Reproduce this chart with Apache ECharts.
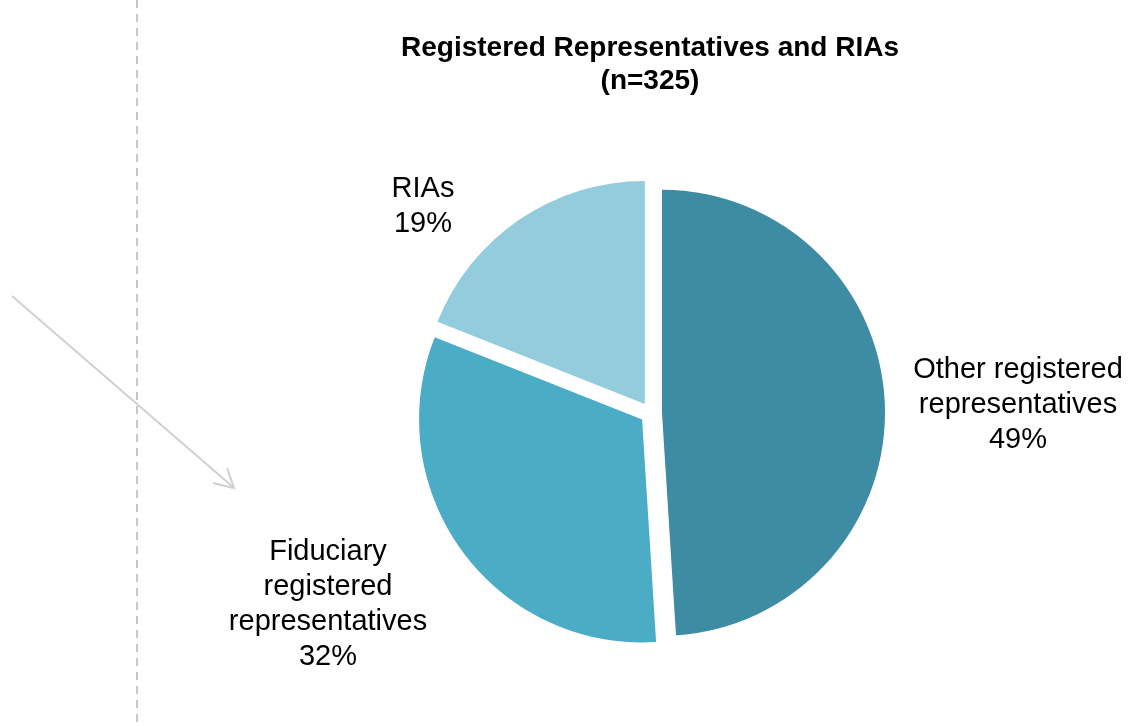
<!DOCTYPE html>
<html>
<head>
<meta charset="utf-8">
<script src="https://cdn.jsdelivr.net/npm/echarts@6/dist/echarts.min.js"></script>
<style>
  html, body { margin: 0; padding: 0; background: #fff; }
  #chart { width: 1134px; height: 726px; }
</style>
</head>
<body>
<div id="chart"></div>
<script>
const categories = ["Other registered\nrepresentatives", "Fiduciary\nregistered\nrepresentatives", "RIAs"];
const shares = [49, 32, 19];
const colors = ["#3d8ca3", "#4bacc6", "#93cddd"];
// where each label's text block is centred
const labelSpots = [[1018, 405], [328, 604], [423, 206]];

const labelTexts = categories.map((c, i) => ({
  type: "text",
  x: labelSpots[i][0],
  y: labelSpots[i][1],
  style: {
    text: c + "\n" + shares[i] + "%",
    font: "29px 'Liberation Sans'",
    lineHeight: 35,
    fill: "#000",
    align: "center",
    verticalAlign: "middle"
  }
}));

const chart = echarts.init(document.getElementById("chart"));
chart.setOption({
  animation: false,
  title: {
    text: "Registered Representatives and RIAs\n(n=325)",
    left: 645,
    top: 27,
    textAlign: "center",
    textStyle: {
      fontFamily: "Liberation Sans",
      fontWeight: "bold",
      fontSize: 28,
      lineHeight: 33,
      color: "#000"
    }
  },
  graphic: [
    {
      type: "line",
      shape: { x1: 137, y1: 0, x2: 137, y2: 726 },
      style: { stroke: "#c8c8c8", lineWidth: 2, lineDash: [8, 6] }
    },
    {
      type: "line",
      shape: { x1: 12, y1: 296, x2: 233, y2: 487 },
      style: { stroke: "#d0d0d0", lineWidth: 2 }
    },
    {
      type: "polyline",
      shape: { points: [[213, 483], [234, 488], [227, 468]] },
      style: { stroke: "#d0d0d0", lineWidth: 2, fill: null }
    }
  ].concat(labelTexts),
  series: [
    {
      type: "pie",
      center: [651, 413],
      radius: 223,
      startAngle: 90,
      clockwise: true,
      selectedMode: "multiple",
      selectedOffset: 11,
      emphasis: { disabled: true },
      label: { show: false },
      labelLine: { show: false },
      data: categories.map((c, i) => ({
        name: c,
        value: shares[i],
        selected: true,
        itemStyle: { color: colors[i] }
      }))
    }
  ]
});
</script>
</body>
</html>
